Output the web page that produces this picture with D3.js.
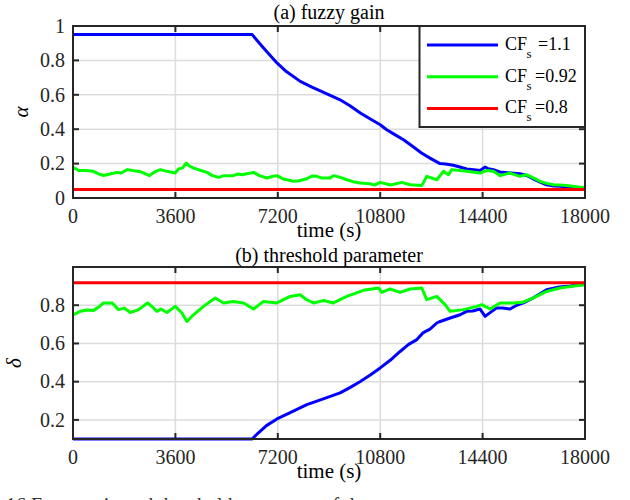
<!DOCTYPE html>
<html lang='en'>
<head>
  <meta charset='UTF-8'>
  <title>Fuzzy gain and threshold parameter</title>
  <style>
  body { margin: 0; background: #fff; }
  svg { display: block; }
  text { font-family: 'Liberation Serif', 'Times New Roman', Times, serif; fill: #262626; }
  .tick-label { font-size: 20px; }
  .title { font-size: 20px; fill: #000; }
  .xlabel { font-size: 21px; fill: #000; }
  .legend text { font-size: 18px; fill: #000; }
  .grid line { stroke: #dcdcdc; stroke-width: 1.5; }
  .frame { fill: none; stroke: #262626; stroke-width: 2; }
  .tick-mark { stroke: #262626; stroke-width: 2; }
  .series { fill: none; stroke-width: 3; stroke-linejoin: round; }
  </style>
  <script src="https://d3js.org/d3.v7.min.js"></script>
</head>
<body>
  <script>

  // ---- data ----
  var timeTicks = [0, 3600, 7200, 10800, 14400, 18000];
  var alphaTicks = [0, 0.2, 0.4, 0.6, 0.8, 1];
  var deltaTicks = [0.2, 0.4, 0.6, 0.8];

  var seriesNames = ['1.1', '0.92', '0.8'];
  var seriesColors = ['#0000ff', '#00ff00', '#ff0000'];

  // (a) fuzzy gain alpha, [time, value]
  var alphaBlue = [[0,0.95],[6300,0.95],[6450,0.92],[6700,0.872],[6950,0.825],[7170,0.785],[7500,0.735],[7990,0.678],
    [8400,0.645],[8810,0.614],[9390,0.571],[9750,0.535],[10100,0.494],[10500,0.455],[10800,0.426],[11030,0.397],
    [11300,0.37],[11620,0.339],[11900,0.305],[12250,0.262],[12550,0.232],[12900,0.2],[13100,0.198],[13370,0.19],
    [13600,0.18],[13840,0.169],[14100,0.165],[14310,0.16],[14490,0.18],[14600,0.17],[14780,0.165],[15010,0.151],
    [15200,0.148],[15400,0.145],[15716,0.141],[15950,0.131],[16200,0.11],[16420,0.092],[16650,0.077],[16900,0.07],
    [17120,0.068],[17400,0.064],[17700,0.06],[18000,0.056]];
  var alphaGreen = [[0,0.178],[200,0.16],[450,0.16],[720,0.155],[900,0.14],[1075,0.131],[1300,0.14],[1545,0.149],
    [1700,0.145],[1900,0.165],[2100,0.16],[2365,0.153],[2550,0.14],[2690,0.13],[2850,0.15],[3070,0.165],[3300,0.155],
    [3590,0.145],[3710,0.169],[3850,0.175],[3980,0.203],[4100,0.185],[4240,0.174],[4500,0.16],[4710,0.149],[4900,0.13],
    [5120,0.12],[5300,0.13],[5640,0.13],[5800,0.14],[5950,0.135],[6110,0.141],[6350,0.149],[6550,0.13],[6820,0.116],
    [7000,0.125],[7170,0.13],[7400,0.11],[7750,0.097],[7950,0.1],[8220,0.112],[8400,0.128],[8570,0.126],[8750,0.116],
    [9040,0.116],[9156,0.13],[9400,0.12],[9625,0.106],[9850,0.095],[10094,0.087],[10446,0.083],[10600,0.075],
    [10800,0.091],[11150,0.076],[11560,0.091],[11850,0.077],[12260,0.072],[12440,0.126],[12790,0.106],[13020,0.155],
    [13200,0.135],[13316,0.165],[13600,0.16],[13843,0.155],[14100,0.15],[14311,0.145],[14550,0.16],[14780,0.155],
    [15014,0.13],[15365,0.145],[15716,0.126],[15950,0.135],[16200,0.115],[16420,0.097],[16650,0.085],[16890,0.077],
    [17120,0.075],[17360,0.073],[17700,0.065],[18000,0.058]];
  var alphaRed = [[0,0.05],[18000,0.05]];

  // (b) threshold parameter delta, [time, value]
  var deltaBlue = [[0,0.1],[6300,0.1],[6500,0.13],[6800,0.17],[7170,0.205],[7600,0.235],[8220,0.28],[8800,0.31],
    [9390,0.341],[9750,0.37],[10100,0.401],[10450,0.435],[10800,0.472],[11150,0.512],[11500,0.558],[11800,0.595],
    [12090,0.62],[12300,0.655],[12550,0.675],[12790,0.707],[12910,0.715],[13260,0.733],[13610,0.75],[13840,0.768],
    [14050,0.77],[14310,0.78],[14490,0.742],[14700,0.765],[14900,0.786],[15100,0.785],[15365,0.78],[15600,0.8],
    [15833,0.812],[16200,0.84],[16650,0.881],[17100,0.895],[17500,0.9],[18000,0.91]];
  var deltaGreen = [[0,0.75],[257,0.768],[500,0.775],[724,0.773],[900,0.79],[1075,0.812],[1370,0.812],[1604,0.777],
    [1800,0.785],[2014,0.762],[2305,0.777],[2621,0.812],[2800,0.79],[2950,0.768],[3100,0.78],[3301,0.762],[3594,0.794],
    [3829,0.759],[4005,0.715],[4237,0.75],[4588,0.794],[5000,0.838],[5292,0.812],[5643,0.82],[5995,0.812],[6346,0.78],
    [6697,0.82],[7168,0.812],[7636,0.846],[7987,0.855],[8200,0.83],[8455,0.812],[8806,0.825],[9156,0.812],[9625,0.846],
    [10211,0.878],[10738,0.89],[10855,0.867],[11148,0.885],[11499,0.867],[11851,0.885],[12262,0.89],[12437,0.829],
    [12789,0.846],[13081,0.803],[13257,0.768],[13726,0.777],[14194,0.794],[14370,0.803],[14663,0.78],[15014,0.812],
    [15482,0.812],[15800,0.815],[16185,0.838],[16653,0.872],[17122,0.89],[17600,0.9],[18000,0.907]];
  var deltaRed = [[0,0.917],[18000,0.917]];

  // ---- layout ----
  var svg = d3.select('body').append('svg').attr('width', 630).attr('height', 500);

  var left = 73, right = 585;
  var x = d3.scaleLinear().domain([0, 18000]).range([left, right]);

  function panel(opts) {
    var y = d3.scaleLinear().domain(opts.domain).range([opts.bottom, opts.top]);
    var g = svg.append('g');

    // grid
    var grid = g.append('g').attr('class', 'grid');
    grid.selectAll('.gx').data(timeTicks.slice(1, -1)).enter().append('line')
      .attr('x1', x).attr('x2', x).attr('y1', opts.top).attr('y2', opts.bottom);
    grid.selectAll('.gy').data(opts.ticks.filter(function (d) { return y(d) > opts.top + 1 && y(d) < opts.bottom - 1; }))
      .enter().append('line')
      .attr('x1', left).attr('x2', right).attr('y1', y).attr('y2', y);

    // series
    var line = d3.line().x(function (d) { return x(d[0]); }).y(function (d) { return y(d[1]); });
    opts.series.forEach(function (s, i) {
      g.append('path').attr('class', 'series').attr('d', line(s)).attr('stroke', seriesColors[i]);
    });

    // frame + inward ticks
    g.append('rect').attr('class', 'frame')
      .attr('x', left).attr('y', opts.top).attr('width', right - left).attr('height', opts.bottom - opts.top);
    var tl = 6;
    timeTicks.forEach(function (t) {
      g.append('line').attr('class', 'tick-mark').attr('x1', x(t)).attr('x2', x(t)).attr('y1', opts.bottom).attr('y2', opts.bottom - tl);
      g.append('line').attr('class', 'tick-mark').attr('x1', x(t)).attr('x2', x(t)).attr('y1', opts.top).attr('y2', opts.top + tl);
    });
    opts.ticks.forEach(function (v) {
      g.append('line').attr('class', 'tick-mark').attr('x1', left).attr('x2', left + tl).attr('y1', y(v)).attr('y2', y(v));
      g.append('line').attr('class', 'tick-mark').attr('x1', right).attr('x2', right - tl).attr('y1', y(v)).attr('y2', y(v));
    });

    // tick labels
    g.selectAll('.xt').data(timeTicks).enter().append('text')
      .attr('class', 'tick-label').attr('text-anchor', 'middle')
      .attr('x', x).attr('y', opts.bottom + 25)
      .text(function (d) { return d; });
    g.selectAll('.yt').data(opts.ticks).enter().append('text')
      .attr('class', 'tick-label').attr('text-anchor', 'end')
      .attr('x', left - 8).attr('y', y).attr('dy', '0.34em')
      .text(function (d) { return d; });

    // labels
    g.append('text').attr('class', 'title').attr('text-anchor', 'middle')
      .attr('x', (left + right) / 2).attr('y', opts.titleY).text(opts.title);
    g.append('text').attr('class', 'xlabel').attr('text-anchor', 'middle')
      .attr('x', (left + right) / 2).attr('y', opts.bottom + 39).text('time (s)');
    g.append('text').attr('class', 'xlabel').attr('text-anchor', 'middle')
      .style('font-style', 'italic')
      .attr('transform', 'translate(' + opts.labelX + ',' + opts.labelY + ') rotate(-90)')
      .text(opts.ylabel);
    return g;
  }

  panel({ top: 26, bottom: 198, domain: [0, 1], ticks: alphaTicks, title: '(a) fuzzy gain', titleY: 18.5,
          ylabel: 'α', labelX: 28, labelY: 112, series: [alphaBlue, alphaGreen, alphaRed] });
  panel({ top: 267, bottom: 439, domain: [0.1, 1.0], ticks: deltaTicks, title: '(b) threshold parameter', titleY: 261.5,
          ylabel: 'δ', labelX: 21, labelY: 363, series: [deltaBlue, deltaGreen, deltaRed] });

  // legend
  var legend = svg.append('g').attr('class', 'legend');
  legend.append('rect').attr('x', 419.5).attr('y', 26).attr('width', 165.5).attr('height', 101)
    .attr('fill', '#fff').attr('stroke', '#262626').attr('stroke-width', 2);
  var eqX = [538, 535, 535];
  seriesNames.forEach(function (name, i) {
    var ly = 45 + i * 31.7;
    legend.append('line').attr('x1', 427).attr('x2', 498).attr('y1', ly).attr('y2', ly)
      .attr('stroke', seriesColors[i]).attr('stroke-width', 3);
    var t = legend.append('text').attr('x', 505).attr('y', ly + 5);
    t.append('tspan').text('CF');
    t.append('tspan').attr('x', 526.5).attr('dy', 8).style('font-size', '13px').text('s');
    t.append('tspan').attr('x', eqX[i]).attr('dy', -8).text('=' + name);
  });

  // caption cut off at the bottom edge of the page, as in the reference
  svg.append('text').attr('x', 6).attr('y', 512).style('font-size', '20px').style('fill', '#333')
    .text('16    Fuzzy gain and threshold parameter of the');
  </script>
</body>
</html>
